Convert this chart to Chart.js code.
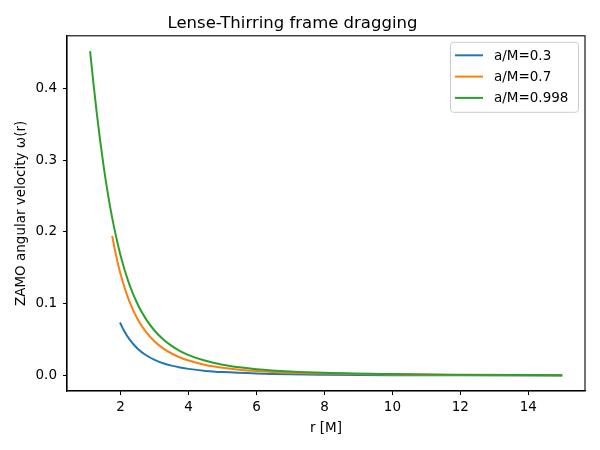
<!DOCTYPE html>
<html>
<head>
<meta charset="utf-8">
<script src="https://cdn.jsdelivr.net/npm/chart.js@4.4.0/dist/chart.umd.min.js"></script>
<style>
  html, body { margin: 0; padding: 0; background: #fff; }
  #wrap { width: 600px; height: 450px; }
</style>
</head>
<body>
<div id="wrap"><canvas id="dragChart" width="600" height="450"></canvas></div>
<script>
// values (r in M, omega in 1/M)
const r03 = [1.98, 2.1, 2.25, 2.5, 2.75, 3, 3.25, 3.5, 3.75, 4, 4.5, 5, 6, 7, 8, 10, 12, 15];
const omega03 = [0.0739, 0.0623, 0.0510, 0.0374, 0.0283, 0.0219, 0.0172, 0.0138, 0.0113, 0.0093, 0.0065, 0.0048, 0.0028, 0.0017, 0.0012, 0.0006, 0.00035, 0.00018];

const r07 = [1.75, 1.85, 2, 2.25, 2.5, 2.75, 3, 3.25, 3.5, 3.75, 4, 4.5, 5, 5.5, 6, 7, 8, 10, 12, 15];
const omega07 = [0.1945, 0.1704, 0.1406, 0.1039, 0.0785, 0.0605, 0.0475, 0.0379, 0.0307, 0.0252, 0.0209, 0.0148, 0.0109, 0.0082, 0.0064, 0.0040, 0.0027, 0.0014, 0.0008, 0.0004];

const r0998 = [1.1, 1.2, 1.3, 1.4, 1.5, 1.6, 1.75, 2, 2.25, 2.5, 2.75, 3, 3.25, 3.5, 3.75, 4, 4.5, 5, 5.5, 6, 7, 8, 10, 12, 15];
const omega0998 = [0.4517, 0.4061, 0.3640, 0.3256, 0.2909, 0.2598, 0.2195, 0.1666, 0.1277, 0.0993, 0.0782, 0.0624, 0.0505, 0.0413, 0.0341, 0.0285, 0.0205, 0.0151, 0.0115, 0.0089, 0.0057, 0.0038, 0.0020, 0.0012, 0.0006];

const seriesLabels = ['a/M=0.3', 'a/M=0.7', 'a/M=0.998'];
const seriesColors = ['#1f77b4', '#ff7f0e', '#2ca02c'];

const xTicks = [2, 4, 6, 8, 10, 12, 14];
const yTicks = [0, 0.1, 0.2, 0.3, 0.4];

const FONT = 'DejaVu Sans';

const toPoints = (xs, ys) => xs.map((x, i) => ({ x: x, y: ys[i] }));

// black box round the plot area, like matplotlib spines
const frameBox = {
  id: 'frameBox',
  afterDatasetsDraw(chart) {
    const { ctx, chartArea } = chart;
    ctx.save();
    ctx.strokeStyle = '#000';
    ctx.lineWidth = 1.1;
    ctx.strokeRect(chartArea.left, chartArea.top, chartArea.right - chartArea.left, chartArea.bottom - chartArea.top);
    ctx.restore();
  }
};

// legend box in the upper right corner
const innerLegend = {
  id: 'innerLegend',
  afterDraw(chart) {
    const { ctx, chartArea } = chart;
    const right = chartArea.right - 7;
    const top = chartArea.top + 6;
    const w = 128, h = 70;
    const left = right - w;
    ctx.save();
    ctx.fillStyle = 'rgba(255,255,255,0.8)';
    ctx.strokeStyle = '#cccccc';
    ctx.lineWidth = 1;
    ctx.beginPath();
    ctx.roundRect(left + 0.5, top + 0.5, w, h, 3);
    ctx.fill();
    ctx.stroke();
    ctx.font = '13.5px "' + FONT + '"';
    ctx.textBaseline = 'middle';
    ctx.textAlign = 'left';
    chart.data.datasets.slice().sort((a, b) => a.legendIndex - b.legendIndex).forEach((ds, i) => {
      const y = top + 13.5 + i * 21.3;
      ctx.strokeStyle = ds.borderColor;
      ctx.lineWidth = 2;
      ctx.beginPath();
      ctx.moveTo(left + 5, y);
      ctx.lineTo(left + 33, y);
      ctx.stroke();
      ctx.fillStyle = '#000';
      ctx.fillText(ds.label, left + 44, y + 1);
    });
    ctx.restore();
  }
};

const ctx = document.getElementById('dragChart');
const dragChart = new Chart(ctx, {
  type: 'line',
  data: {
    datasets: [
      { label: seriesLabels[0], data: toPoints(r03, omega03), borderColor: seriesColors[0], order: 2, legendIndex: 0 },
      { label: seriesLabels[1], data: toPoints(r07, omega07), borderColor: seriesColors[1], order: 1, legendIndex: 1 },
      { label: seriesLabels[2], data: toPoints(r0998, omega0998), borderColor: seriesColors[2], order: 0, legendIndex: 2 }
    ]
  },
  options: {
    responsive: false,
    animation: false,
    devicePixelRatio: 1,
    elements: {
      point: { radius: 0 },
      line: { borderWidth: 2, cubicInterpolationMode: 'monotone', fill: false }
    },
    layout: { padding: { top: 0, right: 15, bottom: 0, left: 0 } },
    plugins: {
      legend: { display: false },
      tooltip: { enabled: false },
      title: {
        display: true,
        text: 'Lense-Thirring frame dragging',
        color: '#000',
        font: { family: FONT, size: 16.5, weight: 'normal' },
        padding: { top: 14, bottom: 2 }
      }
    },
    scales: {
      x: {
        type: 'linear',
        min: 0.42,
        max: 15.67,
        afterFit: (scale) => { scale.height = 59; },
        afterBuildTicks: (scale) => { scale.ticks = xTicks.map(v => ({ value: v })); },
        grid: { drawOnChartArea: false, tickLength: 4, color: '#000' },
        border: { color: '#000', width: 1.1 },
        ticks: { color: '#000', padding: 4, maxRotation: 0, font: { family: FONT, size: 13.5 }, callback: (v) => String(v) },
        title: { display: true, text: 'r [M]', color: '#000', font: { family: FONT, size: 13.5 }, padding: { top: 2, bottom: 13 } }
      },
      y: {
        type: 'linear',
        min: -0.0215,
        max: 0.473,
        afterFit: (scale) => { scale.width = 67; },
        afterBuildTicks: (scale) => { scale.ticks = yTicks.map(v => ({ value: v })); },
        grid: { drawOnChartArea: false, tickLength: 4, color: '#000' },
        border: { color: '#000', width: 1.1 },
        ticks: { color: '#000', padding: 6, font: { family: FONT, size: 13.5 }, callback: (v) => v.toFixed(1) },
        title: { display: true, text: 'ZAMO angular velocity ω(r)', color: '#000', font: { family: FONT, size: 13.5 }, padding: { top: 13, bottom: 2 } }
      }
    }
  },
  plugins: [frameBox, innerLegend]
});
</script>
</body>
</html>
